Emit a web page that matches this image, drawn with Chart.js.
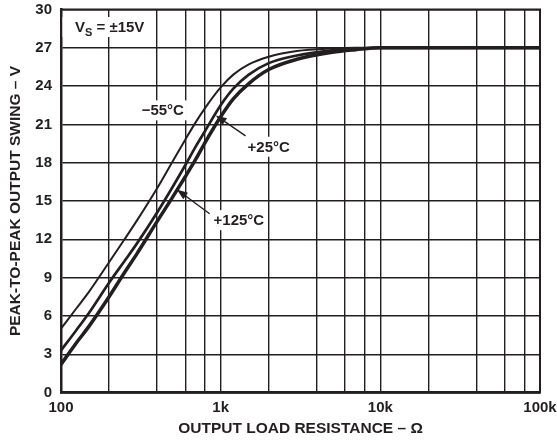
<!DOCTYPE html>
<html><head><meta charset="utf-8">
<script src="https://cdn.jsdelivr.net/npm/chart.js@4/dist/chart.umd.min.js"></script>
<style>html,body{margin:0;padding:0;background:#fff;}</style>
</head><body>
<canvas id="c" width="557" height="441"></canvas>
<script>
// ---- data ----
const resistance = [100,125,150,200,250,300,400,500,600,700,800,1000,1200,1500,2000,3000,5000,7000,10000,20000,50000,100000];
const swingMinus55 = [5.0,6.6,7.9,10.2,12.0,13.5,16.0,18.1,19.8,21.2,22.3,23.9,24.9,25.7,26.3,26.75,26.95,27,27,27,27,27];
const swingPlus25  = [3.3,4.9,6.25,8.6,10.3,11.7,14.1,16.1,17.8,19.3,20.5,22.5,23.8,24.9,25.8,26.4,26.8,26.92,27,27,27,27];
const swingPlus125 = [2.2,3.9,5.2,7.5,9.4,10.9,13.4,15.3,16.9,18.3,19.6,21.6,23.0,24.2,25.3,26.1,26.65,26.85,27,27,27,27];
const xGridValues = [100,200,400,600,800,1000,2000,4000,6000,8000,10000,20000,40000,60000,80000,100000];
const xTickLabels = {100:'100',1000:'1k',10000:'10k',100000:'100k'};
const curveLabels = [
  {text:'\u221255\u00B0C', r:434, v:22.1},
  {text:'+25\u00B0C', r:2000, v:19.25},
  {text:'+125\u00B0C', r:1300, v:13.5}
];
const arrows = [
  {fromR:1432, fromV:20.1, toR:931, toV:21.7},
  {fromR:853, fromV:14.0, toR:531, toV:15.9}
];
const supplyLabel = {main:'V', sub:'S', rest:' = \u00B115V'};

const INK = '#231f20';
const FONT = "'Liberation Sans', Arial, Helvetica, sans-serif";
const toPts = arr => resistance.map((r,i)=>({x:r, y:arr[i]}));

const overlay = {
  id:'overlay',
  beforeDatasetsDraw(chart){
    const {ctx, chartArea:a, scales:{x,y}} = chart;
    ctx.save();
    ctx.fillStyle = '#fff';
    ctx.fillRect(a.left+1.5, a.top+7.5, 93, 20);
    ctx.fillStyle = INK;
    ctx.textBaseline = 'alphabetic';
    ctx.font = `bold 15px ${FONT}`;
    let px = a.left + 14, py = a.top + 22;
    ctx.fillText(supplyLabel.main, px, py);
    px += ctx.measureText(supplyLabel.main).width;
    ctx.font = `bold 11px ${FONT}`;
    ctx.fillText(supplyLabel.sub, px, py+4);
    px += ctx.measureText(supplyLabel.sub).width;
    ctx.font = `bold 15px ${FONT}`;
    ctx.fillText(supplyLabel.rest, px, py);
    ctx.textAlign = 'center';
    ctx.textBaseline = 'middle';
    curveLabels.forEach(l=>{
      const cx = x.getPixelForValue(l.r), cy = y.getPixelForValue(l.v);
      const w = ctx.measureText(l.text).width;
      ctx.fillStyle = '#fff';
      ctx.fillRect(cx - w/2 - 3, cy - 10, w + 6, 20);
      ctx.fillStyle = INK;
      ctx.fillText(l.text, cx, cy+1);
    });
    ctx.restore();
  },
  afterDatasetsDraw(chart){
    const {ctx, chartArea:a, scales:{x,y}} = chart;
    ctx.save();
    ctx.strokeStyle = INK; ctx.fillStyle = INK;
    arrows.forEach(ar=>{
      const x1 = x.getPixelForValue(ar.fromR), y1 = y.getPixelForValue(ar.fromV);
      const x2 = x.getPixelForValue(ar.toR), y2 = y.getPixelForValue(ar.toV);
      const ang = Math.atan2(y2-y1, x2-x1);
      const hl = 11, hw = 4;
      const bx = x2 - hl*Math.cos(ang), by = y2 - hl*Math.sin(ang);
      ctx.lineWidth = 1.4;
      ctx.beginPath(); ctx.moveTo(x1,y1); ctx.lineTo(bx,by); ctx.stroke();
      ctx.beginPath();
      ctx.moveTo(x2,y2);
      ctx.lineTo(bx + hw*Math.sin(ang), by - hw*Math.cos(ang));
      ctx.lineTo(bx - hw*Math.sin(ang), by + hw*Math.cos(ang));
      ctx.closePath(); ctx.fill();
    });
    ctx.lineWidth = 2;
    ctx.strokeRect(a.left, a.top, a.right-a.left, a.bottom-a.top);
    ctx.restore();
  }
};

new Chart(document.getElementById('c'), {
  type:'line',
  data:{
    datasets:[
      {label:'-55°C', data:toPts(swingMinus55), borderColor:INK, borderWidth:2, pointRadius:0, cubicInterpolationMode:'monotone', fill:false},
      {label:'+25°C', data:toPts(swingPlus25), borderColor:INK, borderWidth:2.7, pointRadius:0, cubicInterpolationMode:'monotone', fill:false},
      {label:'+125°C', data:toPts(swingPlus125), borderColor:INK, borderWidth:3.5, pointRadius:0, cubicInterpolationMode:'monotone', fill:false}
    ]
  },
  options:{
    responsive:false, animation:false, devicePixelRatio:1,
    layout:{padding:{top:9.5, right:17, left:0, bottom:0}},
    plugins:{legend:{display:false}, tooltip:{enabled:false}},
    scales:{
      x:{
        type:'logarithmic', min:100, max:100000,
        afterBuildTicks: s => { s.ticks = xGridValues.map(v=>({value:v})); },
        afterFit: s => { s.height = 48.5; s.paddingLeft = 0; s.paddingRight = 0; },
        grid:{color:INK, lineWidth:1.4, drawTicks:false},
        border:{display:true, color:INK, width:2.5},
        ticks:{autoSkip:false, maxRotation:0, padding:6, color:INK,
          font:{family:FONT, weight:'bold', size:15},
          callback: v => xTickLabels[v] || ''},
        title:{display:true, text:'OUTPUT LOAD RESISTANCE \u2013 \u03A9', color:INK,
          font:{family:FONT, weight:'bold', size:15.5}, padding:{top:0,bottom:3}}
      },
      y:{
        min:0, max:30,
        afterFit: s => { s.width = 61; s.paddingTop = 0; s.paddingBottom = 0; },
        grid:{color:INK, lineWidth:1.4, drawTicks:false},
        border:{display:true, color:INK, width:2.5},
        ticks:{stepSize:3, padding:9, color:INK, font:{family:FONT, weight:'bold', size:15}},
        title:{display:true, text:'PEAK-TO-PEAK OUTPUT SWING \u2013 V', color:INK,
          font:{family:FONT, weight:'bold', size:15.5}, padding:{top:6,bottom:0}}
      }
    }
  },
  plugins:[overlay]
});
</script>
</body></html>
